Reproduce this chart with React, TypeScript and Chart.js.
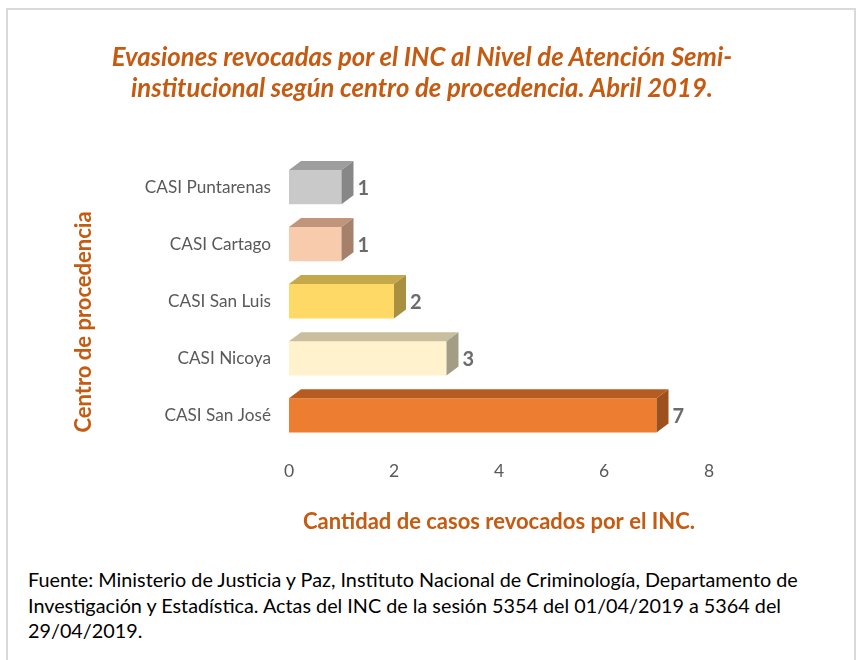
import React, { useEffect, useRef } from "react";
import { Chart, registerables } from "chart.js";

Chart.register(...registerables);

const categories = ["CASI Puntarenas", "CASI Cartago", "CASI San Luis", "CASI Nicoya", "CASI San José"];
const values = [1, 1, 2, 3, 7];
const xTicks = [0, 2, 4, 6, 8];

const titleLines = [
  "Evasiones revocadas por el INC al Nivel de Atención Semi-",
  "institucional según centro de procedencia. Abril 2019.",
];
const xTitle = "Cantidad de casos revocados por el INC.";
const yTitle = "Centro de procedencia";
const sourceLines = [
  "Fuente: Ministerio de Justicia y Paz, Instituto Nacional de Criminología, Departamento de",
  "Investigación y Estadística. Actas del INC de la sesión 5354 del 01/04/2019 a 5364 del",
  "29/04/2019.",
];

const frontColors = ["#C9C9C9", "#F8CBAD", "#FFD966", "#FFF2CC", "#ED7D31"];
const topColors = ["#9E9E9E", "#C0957C", "#C4A84A", "#C9BF9E", "#B55D21"];
const sideColors = ["#878787", "#A5806A", "#A89040", "#A39D85", "#9E501C"];

const ORANGE = "#C55A11";
const FONT = "Lato, 'Open Sans', sans-serif";
const DX = 12;
const DY = 9;

const bar3d = {
  id: "bar3d",
  afterDatasetsDraw(chart: any) {
    const ctx = chart.ctx;
    const meta = chart.getDatasetMeta(0);
    ctx.save();
    meta.data.forEach((el: any, i: number) => {
      const { x, y, base, height } = el.getProps(["x", "y", "base", "height"], true);
      const top = y - height / 2;
      const bottom = y + height / 2;
      ctx.fillStyle = topColors[i];
      ctx.beginPath();
      ctx.moveTo(base, top);
      ctx.lineTo(base + DX, top - DY);
      ctx.lineTo(x + DX, top - DY);
      ctx.lineTo(x, top);
      ctx.closePath();
      ctx.fill();
      ctx.fillStyle = sideColors[i];
      ctx.beginPath();
      ctx.moveTo(x, top);
      ctx.lineTo(x + DX, top - DY);
      ctx.lineTo(x + DX, bottom - DY);
      ctx.lineTo(x, bottom);
      ctx.closePath();
      ctx.fill();
      ctx.fillStyle = "#6B6B6B";
      ctx.font = "bold 20px " + FONT;
      ctx.textAlign = "left";
      ctx.textBaseline = "middle";
      ctx.fillText(String(values[i]), x + DX + 4, y + 1);
    });
    // vertical axis title
    ctx.translate(84, 322);
    ctx.rotate(-Math.PI / 2);
    ctx.fillStyle = ORANGE;
    ctx.font = "bold 22px " + FONT;
    ctx.textAlign = "center";
    ctx.textBaseline = "middle";
    ctx.fillText(yTitle, 0, 0);
    ctx.restore();
  },
};

export default function App() {
  const ref = useRef<HTMLCanvasElement>(null);
  useEffect(() => {
    if (!ref.current) return;
    const chart = new Chart(ref.current, {
      type: "bar",
      data: {
        labels: categories,
        datasets: [
          {
            data: values,
            backgroundColor: frontColors,
            borderWidth: 0,
            barPercentage: 0.6,
            categoryPercentage: 1,
          },
        ],
      },
      options: {
        indexAxis: "y",
        responsive: false,
        animation: false,
        layout: { padding: { left: 0, right: 148, top: 158.5, bottom: 25 } },
        plugins: { legend: { display: false }, tooltip: { enabled: false }, title: { display: false } },
        scales: {
          x: {
            min: 0,
            max: 8,
            afterBuildTicks: (s: any) => {
              s.ticks = xTicks.map((v) => ({ value: v }));
            },
            grid: { display: false, drawTicks: false },
            border: { display: false },
            ticks: { color: "#595959", font: { family: FONT, size: 17.5 }, padding: 17 },
            title: {
              display: true,
              text: xTitle,
              color: ORANGE,
              font: { family: FONT, size: 22, weight: "bold" },
              padding: 0,
            },
            afterFit: (s: any) => {
              s.height = 91;
            },
          },
          y: {
            grid: { display: false, drawTicks: false },
            border: { display: false },
            ticks: { color: "#595959", font: { family: FONT, size: 17.2 }, padding: 18 },
            afterFit: (s: any) => {
              s.width = 289;
            },
          },
        },
      },
      plugins: [bar3d],
    });
    return () => chart.destroy();
  }, []);

  return (
    <div style={{ position: "absolute", left: 0, top: 0, width: 857, height: 660, overflow: "hidden", background: "#fff" }}>
      <div
        style={{
          position: "absolute",
          left: 6,
          top: 8,
          width: 846,
          height: 700,
          border: "2px solid #D9D9D9",
          borderBottom: "none",
        }}
      />
      <canvas ref={ref} width={857} height={560} style={{ position: "absolute", left: 0, top: 0, width: 857, height: 560 }} />
      <div
        style={{
          position: "absolute",
          left: 0,
          top: 41,
          width: 844,
          textAlign: "center",
          color: ORANGE,
          fontFamily: FONT,
          fontWeight: "bold",
          fontStyle: "italic",
          fontSize: 25.7,
          lineHeight: "31px",
          whiteSpace: "nowrap",
        }}
      >
        {titleLines[0]}
        <br />
        {titleLines[1]}
      </div>
      <div
        style={{
          position: "absolute",
          left: 28,
          top: 567,
          color: "#000",
          fontFamily: FONT,
          fontSize: 19.8,
          lineHeight: "25.5px",
          whiteSpace: "nowrap",
        }}
      >
        {sourceLines[0]}
        <br />
        {sourceLines[1]}
        <br />
        {sourceLines[2]}
      </div>
    </div>
  );
}
